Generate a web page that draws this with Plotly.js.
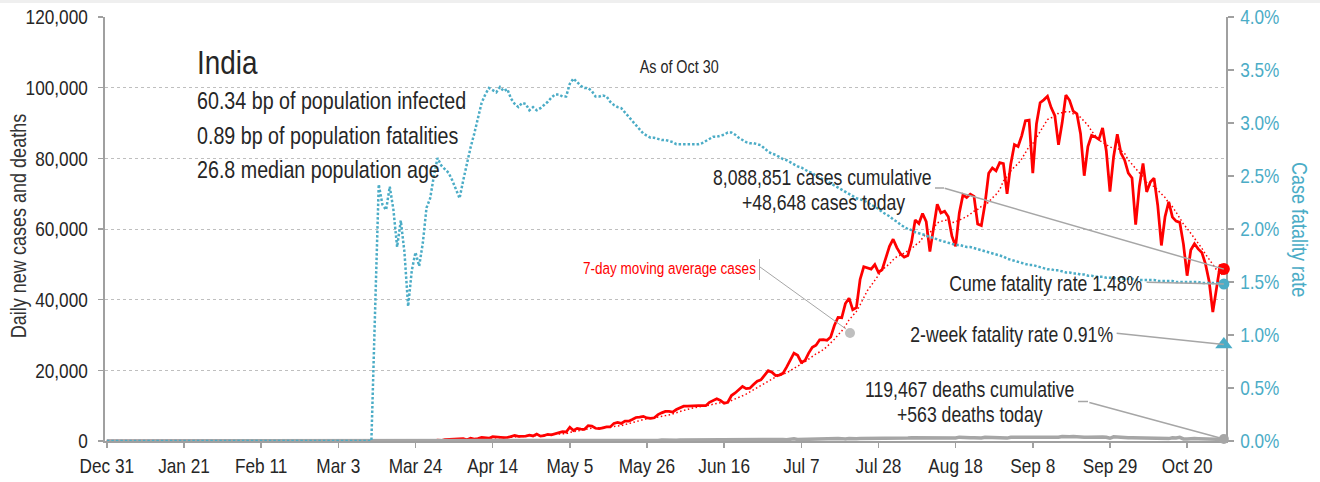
<!DOCTYPE html>
<html><head><meta charset="utf-8">
<script src="https://cdn.plot.ly/plotly-3.0.1.min.js"></script>
<style>html,body{margin:0;padding:0;background:#fff}</style>
</head><body><div id="chart" style="width:1320px;height:482px"></div>
<script>
// ---------- DATA (daily, 2019-12-31 .. 2020-10-30) ----------
const START_DATE = [2019, 11, 31];

const cases = [
  0,
  0,0,0,0,0,0,0,0,0,0,0,0,0,0,0,0,0,0,0,0,0,0,0,0,0,0,0,0,0,1,0,
  0,1,1,0,0,0,0,0,0,0,0,0,0,0,0,0,0,0,0,0,0,0,0,0,0,0,0,0,0,
  0,2,1,22,1,2,3,5,4,15,6,11,8,20,11,8,23,14,38,50,86,66,103,37,121,70,160,100,37,227,146,
  386,424,486,560,472,693,354,773,540,678,1035,909,796,1211,1076,1118,941,991,1334,1553,1336,1383,1409,1684,1429,1990,1396,1543,1897,1718,
  1993,2293,2644,2553,3900,2958,3561,3390,3320,4353,4213,3604,3525,3722,3967,3970,4987,5242,4970,5611,5609,6088,6654,6767,6977,6535,6387,6566,7466,7964,8380,
  8392,8171,8909,9304,9851,9887,9971,9983,9987,9985,9996,10956,11458,11929,11502,10667,10974,12881,13586,14516,15413,14821,14933,15968,16922,17296,18552,19906,19459,18522,
  18653,19148,20903,22771,24850,24248,22252,22752,24879,26506,27114,28637,28701,28498,29429,32695,34956,34884,38902,40425,37148,37724,45720,49310,48916,48661,49931,47704,48513,52123,55078,
  57118,54735,52972,52050,52509,56282,62538,61537,64399,62064,53601,60963,66999,64553,65002,63490,57981,55079,64531,69652,68898,69878,69239,61408,60975,67151,75760,77266,76472,78761,78512,
  69921,78357,83883,83341,86432,90632,90802,75809,89706,95735,96551,97570,94372,92071,83809,90123,97894,96424,93337,92605,86961,75083,83347,86508,86052,85362,88600,82170,70589,80472,
  86821,81484,79476,75829,74442,61267,72049,78524,70496,73272,74383,66732,55342,63509,67708,63371,62212,61871,55722,46790,54044,55839,54366,53370,50129,45148,36470,43893,49881,48648
];

const casesAvg7 = [
  0,
  0,0,0,0,0,0,0,0,0,0,0,0,0,0,0,0,0,0,0,0,0,0,0,0,0,0,0,0,0,0,0,
  0,0,0,0,0,0,0,0,0,0,0,0,0,0,0,0,0,0,0,0,0,0,0,0,0,0,0,0,0,
  0,0,0,4,4,4,4,5,5,7,5,7,7,10,11,11,12,14,17,23,33,41,54,56,72,76,92,94,90,107,123,
  161,211,258,324,386,452,482,537,554,581,649,712,726,849,892,975,1012,1006,1067,1175,1193,1237,1278,1384,1447,1541,1518,1548,1621,1665,
  1709,1833,1926,2092,2428,2580,2843,3043,3189,3434,3671,3628,3709,3732,3815,3908,3998,4145,4340,4638,4908,5211,5594,5849,6097,6320,6431,6568,6765,6952,7182,
  7384,7618,7978,8369,8710,8985,9212,9439,9699,9853,9951,10109,10334,10613,10830,10928,11069,11481,11857,12294,12791,13265,13875,14588,15166,15696,16272,16914,17577,18089,
  18473,18791,19306,19909,20615,21299,21832,22418,23236,24037,24657,25198,25834,26727,27681,28797,30004,31114,32581,34256,35491,36676,38537,40588,42592,43986,45344,46852,48394,49308,50132,
  51304,52172,52606,53227,53798,54392,55458,56089,57470,58768,58990,60198,61729,62017,62512,62382,61798,62010,62519,62898,63519,64216,65037,65526,66369,66743,67616,68811,69753,71113,73557,
  74835,76436,77596,78464,79887,81583,83338,84179,85801,87494,89381,90972,91506,91688,92831,92890,93199,93180,92576,92323,91593,90347,89379,87752,86270,85131,84559,83875,83233,82822,
  82867,82214,81373,79549,78445,77113,75910,74724,73155,72268,72062,70960,70114,68894,67349,66331,64751,62964,61391,60169,58817,57121,55835,54572,52894,51384,49909,48459,47608,46791
];

const deaths = [
  0,
  0,0,0,0,0,0,0,0,0,0,0,0,0,0,0,0,0,0,0,0,0,0,0,0,0,0,0,0,0,0,0,
  0,0,0,0,0,0,0,0,0,0,0,0,0,0,0,0,0,0,0,0,0,0,0,0,0,0,0,0,0,
  0,0,0,0,0,0,0,0,0,0,0,0,1,1,0,0,1,0,1,0,0,3,3,0,1,6,3,4,6,5,3,
  3,12,15,12,9,32,13,35,17,33,40,34,35,31,39,38,23,43,36,36,47,50,41,37,57,49,57,62,71,67,
  73,83,83,72,195,126,89,103,95,128,97,87,122,134,100,103,120,157,134,140,132,148,137,147,154,146,170,194,175,265,193,
  230,204,217,260,273,294,287,206,331,279,357,396,386,311,325,380,420,334,336,375,306,445,312,465,418,407,384,410,380,418,
  507,434,379,442,613,425,467,482,487,475,519,551,500,553,582,606,687,671,543,681,587,648,740,740,757,705,708,654,768,775,779,
  764,853,771,803,857,904,886,933,861,1007,871,834,942,1007,996,944,941,876,1092,977,983,945,912,848,836,1059,1023,1021,1021,948,971,
  819,1045,1043,1096,1089,1065,1016,1133,1115,1172,1201,1114,1114,1136,1054,1290,1132,1174,1247,1133,1130,1053,1085,1129,1141,1089,1124,1039,776,1179,
  1181,1095,1069,940,903,884,986,971,964,926,918,816,706,730,680,895,837,1033,579,587,717,702,650,670,578,480,488,508,517,563
];

// case fatality rate, percent
const fatalityRate = [
  0,
  0,0,0,0,0,0,0,0,0,0,0,0,0,0,0,0,0,0,0,0,0,0,0,0,0,0,0,0,0,0,0,
  0,0,0,0,0,0,0,0,0,0,0,0,0,0,0,0,0,0,0,0,0,0,0,0,0,0,0,0,0,
  0,0,0,0,0,0,0,0,0,0,0,0,1.22,2.42,2.23,2.18,2.40,2.18,1.83,2.08,1.78,1.27,1.61,1.78,1.65,1.87,2.20,2.29,2.50,2.67,2.60,
  2.56,2.53,2.46,2.37,2.29,2.46,2.62,2.77,2.90,3.06,3.19,3.27,3.33,3.31,3.29,3.34,3.30,3.32,3.23,3.18,3.15,3.19,3.18,3.12,3.15,3.12,3.14,3.17,3.20,3.24,
  3.27,3.27,3.25,3.25,3.37,3.42,3.38,3.35,3.33,3.33,3.30,3.25,3.25,3.26,3.25,3.20,3.17,3.15,3.14,3.10,3.06,3.03,2.98,2.94,2.90,2.88,2.86,2.86,2.85,2.84,2.84,
  2.83,2.82,2.80,2.80,2.80,2.80,2.80,2.80,2.80,2.81,2.83,2.85,2.87,2.87,2.88,2.89,2.91,2.91,2.89,2.86,2.84,2.82,2.81,2.81,2.80,2.79,2.76,2.73,2.71,2.70,
  2.68,2.66,2.65,2.63,2.61,2.59,2.58,2.56,2.54,2.53,2.50,2.48,2.47,2.46,2.43,2.41,2.39,2.37,2.35,2.33,2.31,2.29,2.28,2.27,2.25,2.23,2.21,2.19,2.16,2.14,2.12,
  2.09,2.07,2.04,2.02,2.00,1.99,1.97,1.96,1.95,1.94,1.92,1.92,1.90,1.89,1.88,1.87,1.86,1.85,1.85,1.84,1.83,1.83,1.82,1.81,1.80,1.79,1.78,1.77,1.76,1.75,1.74,
  1.72,1.71,1.70,1.69,1.68,1.67,1.66,1.66,1.65,1.64,1.63,1.62,1.62,1.61,1.61,1.60,1.59,1.59,1.58,1.58,1.57,1.57,1.56,1.56,1.55,1.55,1.55,1.54,1.54,1.54,
  1.53,1.53,1.53,1.53,1.53,1.52,1.52,1.52,1.52,1.52,1.52,1.51,1.51,1.51,1.51,1.51,1.50,1.50,1.50,1.50,1.50,1.50,1.50,1.49,1.49,1.49,1.49,1.49,1.48,1.48
];

const twoWeekFatalityRate = 0.91;

const TEXT = {
  country: 'India',
  info: ['60.34 bp of population infected', '0.89 bp of population fatalities', '26.8 median population age'],
  asOf: 'As of Oct 30',
  casesCum: '8,088,851 cases cumulative',
  casesToday: '+48,648 cases today',
  cfr: 'Cume fatality rate 1.48%',
  twoWeek: '2-week fatality rate 0.91%',
  deathsCum: '119,467 deaths cumulative',
  deathsToday: '+563 deaths today',
  maLabel: '7-day moving average cases',
  yTitle: 'Daily new cases and deaths',
  y2Title: 'Case fatality rate'
};

// ---------- BUILD ----------
const dates = cases.map((_, i) =>
  new Date(Date.UTC(START_DATE[0], START_DATE[1], START_DATE[2] + i)).toISOString().slice(0, 10));
const last = dates.length - 1;

const FONT = "'Liberation Sans', Arial, sans-serif";
const NARROW = 0.82;   // horizontal squeeze to imitate a narrow typeface
const RED = '#FF0000', TEAL = '#4BACC6', GRAY = '#A6A6A6', TXT = '#262626', AXC = '#A0A0A0';

// plot area in pixels: left 105, right 1226, top 17, bottom 441
const PL = 105, PR = 1226, PT = 17, PB = 441;
const px = v => (v - PL) / (PR - PL);
const py = v => (PB - v) / (PB - PT);

const traces = [
  { x: dates, y: casesAvg7, type: 'scatter', mode: 'lines', yaxis: 'y',
    line: { color: RED, width: 1.5, dash: '1.5px,2.5px' }, hoverinfo: 'skip' },
  { x: dates, y: cases, type: 'scatter', mode: 'lines', yaxis: 'y',
    line: { color: RED, width: 2.75 }, hoverinfo: 'skip' },
  { x: dates, y: deaths, type: 'scatter', mode: 'lines', yaxis: 'y',
    line: { color: GRAY, width: 3.5 }, hoverinfo: 'skip' },
  { x: [dates[last]], y: [cases[last]], type: 'scatter', mode: 'markers', yaxis: 'y',
    marker: { color: RED, size: 12 }, cliponaxis: false, hoverinfo: 'skip' },
  { x: [dates[last]], y: [deaths[last]], type: 'scatter', mode: 'markers', yaxis: 'y',
    marker: { color: GRAY, size: 10 }, cliponaxis: false, hoverinfo: 'skip' },
  { x: dates, y: fatalityRate, type: 'scatter', mode: 'lines', yaxis: 'y2',
    line: { color: TEAL, width: 2.5, dash: '2.5px,2px' }, hoverinfo: 'skip' },
  { x: [dates[last]], y: [fatalityRate[last]], type: 'scatter', mode: 'markers', yaxis: 'y2',
    marker: { color: TEAL, size: 11 }, cliponaxis: false, hoverinfo: 'skip' },
  { x: [dates[last]], y: [twoWeekFatalityRate], type: 'scatter', mode: 'markers', yaxis: 'y2',
    marker: { color: TEAL, size: 15, symbol: 'triangle-up' }, cliponaxis: false, hoverinfo: 'skip' }
];

function txt(text, x, y, size, opts) {
  return Object.assign({ text, x: px(x), y: py(y), xref: 'paper', yref: 'paper',
    showarrow: false, xanchor: 'center', yanchor: 'middle', align: 'center',
    font: { family: FONT, size, color: TXT } }, opts || {});
}
function callout(xv, yv, yref, ax, ay) {
  return { x: xv, y: yv, xref: 'x', yref, text: '', showarrow: true, arrowhead: 0,
    arrowwidth: 1.5, arrowcolor: GRAY, ax, ay, standoff: 0 };
}

const annotations = [
  txt(TEXT.country, 195, 62, 34, { xanchor: 'left', align: 'left' }),
  txt(TEXT.info[0], 195, 101, 24, { xanchor: 'left', align: 'left' }),
  txt(TEXT.info[1], 195, 135, 24, { xanchor: 'left', align: 'left' }),
  txt(TEXT.info[2], 195, 170, 24, { xanchor: 'left', align: 'left' }),
  txt(TEXT.asOf, 680, 67, 17.5),
  txt(TEXT.casesCum, 822.5, 178, 21.5),
  txt(TEXT.casesToday, 823, 203, 21.5),
  txt(TEXT.cfr, 1045, 284, 21.5),
  txt(TEXT.twoWeek, 1011, 335, 21.5),
  txt(TEXT.deathsCum, 969, 390, 21.5),
  txt(TEXT.deathsToday, 969.5, 415, 21.5),
  txt(TEXT.maLabel, 669, 268, 16.5, { font: { family: FONT, size: 16.5, color: RED } }),
  txt(TEXT.yTitle, 18, 226, 22, { textangle: -90, font: { family: FONT, size: 22, color: '#333' } }),
  txt(TEXT.y2Title, 1300, 229, 22, { textangle: 90, font: { family: FONT, size: 22, color: TEAL } }),
  callout(dates[last], cases[last], 'y', -280.7, -81.3),
  callout(dates[last], fatalityRate[last], 'y2', -78.7, -2),
  callout(dates[last], twoWeekFatalityRate, 'y2', -108.7, -11.5),
  callout(dates[last], deaths[last], 'y', -136, -37)
];

const shapes = [
  { type: 'rect', xref: 'paper', yref: 'paper', x0: px(0), x1: px(1320), y0: py(0), y1: py(3),
    fillcolor: '#EFEFEF', line: { width: 0 } },
  { type: 'line', xref: 'paper', yref: 'paper', x0: px(935), x1: px(944), y0: py(188), y1: py(188),
    line: { color: GRAY, width: 1.5 } },
  { type: 'line', xref: 'paper', yref: 'paper', x0: px(1078), x1: px(1088), y0: py(401.5), y1: py(401.5),
    line: { color: GRAY, width: 1.5 } },
  { type: 'line', xref: 'paper', yref: 'paper', x0: px(759.5), x1: px(759.5), y0: py(259), y1: py(280),
    line: { color: GRAY, width: 1 } },
  { type: 'line', xref: 'paper', yref: 'paper', x0: px(760), x1: px(846), y0: py(267), y1: py(329),
    line: { color: GRAY, width: 1 } },
  { type: 'circle', xref: 'paper', yref: 'paper', x0: px(845), x1: px(855), y0: py(328), y1: py(338),
    fillcolor: '#BFBFBF', line: { width: 0 } }
];

const layout = {
  width: 1320, height: 482,
  margin: { l: PL, r: 1320 - PR, t: PT, b: 482 - PB, pad: 0 },
  paper_bgcolor: '#fff', plot_bgcolor: '#fff',
  showlegend: false, hovermode: false,
  font: { family: FONT, color: TXT },
  xaxis: {
    type: 'date', range: ['2019-12-30 12:00', '2020-10-30 14:00'],
    tick0: '2019-12-31', dtick: 21 * 86400000, tickformat: '%b %-d',
    ticks: 'outside', ticklen: 5, tickcolor: AXC, tickwidth: 1.5,
    showline: true, linecolor: AXC, linewidth: 2, layer: 'below traces',
    showgrid: false, zeroline: false,
    tickfont: { family: FONT, size: 21, color: TXT }
  },
  yaxis: {
    range: [0, 120000], dtick: 20000, tickformat: ',',
    ticks: 'outside', ticklen: 5, tickcolor: AXC, tickwidth: 1.5,
    showline: true, linecolor: AXC, linewidth: 2, layer: 'below traces',
    showgrid: true, gridcolor: '#BFBFBF', griddash: 'dot', gridwidth: 1,
    zeroline: false, ticklabelstandoff: 6,
    tickfont: { family: FONT, size: 21, color: TXT }
  },
  yaxis2: {
    overlaying: 'y', side: 'right', range: [0, 4], dtick: 0.5,
    tickformat: '.1f', ticksuffix: '%',
    ticks: 'outside', ticklen: 6, tickcolor: AXC, tickwidth: 1.5,
    showline: true, linecolor: AXC, linewidth: 2, layer: 'below traces',
    showgrid: false, zeroline: false, ticklabelstandoff: 2,
    tickfont: { family: FONT, size: 21, color: TEAL }
  },
  annotations, shapes
};

Plotly.newPlot('chart', traces, layout, { staticPlot: true, displayModeBar: false }).then(gd => {
  // squeeze every label horizontally around its own anchor point
  gd.querySelectorAll('svg text').forEach(t => {
    const x = parseFloat(t.getAttribute('x')) || 0;
    const tr = t.getAttribute('transform') || '';
    t.setAttribute('transform', tr + ' translate(' + x + ',0) scale(' + NARROW + ',1) translate(' + (-x) + ',0)');
  });
});
</script></body></html>
